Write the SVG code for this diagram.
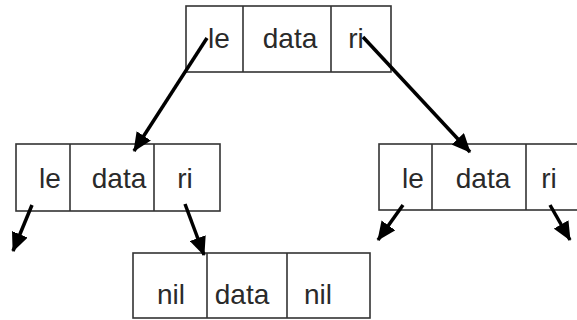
<svg xmlns="http://www.w3.org/2000/svg" width="577" height="320" viewBox="0 0 577 320">
<style>
.box{fill:#fff;stroke:#333;stroke-width:1.6}
.div{stroke:#333;stroke-width:1.6}
.t{font-family:"Liberation Sans",Arial,sans-serif;font-size:28px;fill:#2a2a2a;text-anchor:middle}
.a{stroke:#000;stroke-width:3.5;fill:none;marker-end:url(#ah)}
</style>
<defs>
<marker id="ah" markerUnits="userSpaceOnUse" markerWidth="19" markerHeight="17" refX="18" refY="8.5" orient="auto">
<path d="M0,0 L19,8.5 L0,17 z" fill="#000"/>
</marker>
</defs>
<rect width="577" height="320" fill="#fff"/>
<g id="root">
<rect class="box" x="186" y="6" width="205" height="66"/>
<line class="div" x1="243" y1="6" x2="243" y2="72"/>
<line class="div" x1="331" y1="6" x2="331" y2="72"/>
<text class="t" x="219" y="48">le</text>
<text class="t" x="290" y="48">data</text>
<text class="t" x="356" y="48">ri</text>
</g>
<g id="left">
<rect class="box" x="16" y="144" width="204" height="67"/>
<line class="div" x1="70" y1="144" x2="70" y2="211"/>
<line class="div" x1="154" y1="144" x2="154" y2="211"/>
<text class="t" x="50" y="188">le</text>
<text class="t" x="119" y="188">data</text>
<text class="t" x="185" y="188">ri</text>
</g>
<g id="right">
<rect class="box" x="379" y="144" width="220" height="66"/>
<line class="div" x1="432" y1="144" x2="432" y2="210"/>
<line class="div" x1="526" y1="144" x2="526" y2="210"/>
<text class="t" x="413" y="188">le</text>
<text class="t" x="483" y="188">data</text>
<text class="t" x="549" y="188">ri</text>
</g>
<g id="leaf">
<rect class="box" x="133" y="253" width="237" height="65"/>
<line class="div" x1="207" y1="253" x2="207" y2="318"/>
<line class="div" x1="287" y1="253" x2="287" y2="318"/>
<text class="t" x="171" y="304">nil</text>
<text class="t" x="242" y="304">data</text>
<text class="t" x="318" y="304">nil</text>
</g>
<g id="connectors">
<line class="a" x1="207" y1="38" x2="134" y2="151"/>
<line class="a" x1="363" y1="37" x2="470" y2="152"/>
<line class="a" x1="32" y1="205" x2="13" y2="251"/>
<line class="a" x1="185" y1="204" x2="204" y2="255"/>
<line class="a" x1="403" y1="205" x2="378" y2="240"/>
<line class="a" x1="550" y1="205" x2="570" y2="240"/>
</g>
</svg>
